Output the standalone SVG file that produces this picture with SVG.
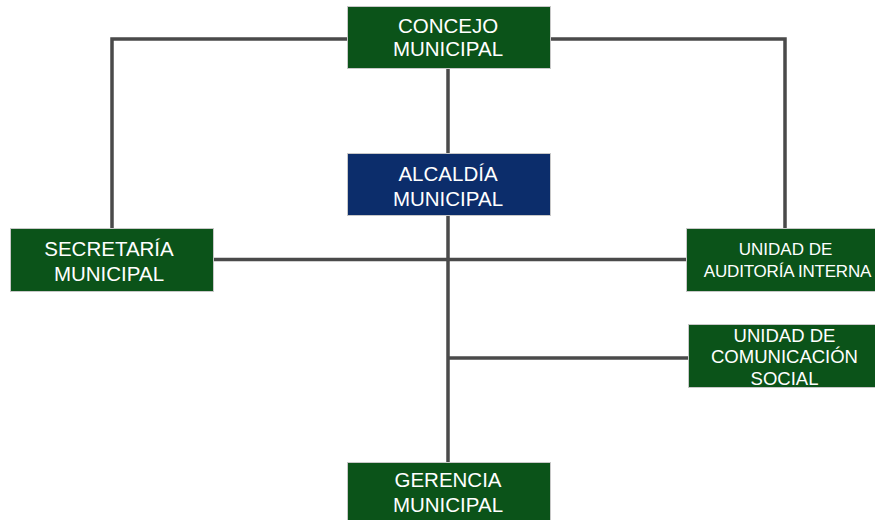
<svg xmlns="http://www.w3.org/2000/svg" width="875" height="520" viewBox="0 0 875 520">
<style>
.box{stroke:#c8c8c8;stroke-width:1}
.g{fill:#0b5319}
.b{fill:#0c2d6b}
.t{fill:#ffffff;font-family:"Liberation Sans",Arial,sans-serif;text-anchor:middle}
.big{font-size:20.5px}
.sm{font-size:17px}
.md{font-size:18.5px}
.c{stroke:#4a4a4a;stroke-width:3.5;fill:none}
</style>
<rect width="875" height="520" fill="#ffffff"/>
<g id="connectors">
<polyline class="c" points="112,228 112,39 785,39 785,228"/>
<line class="c" x1="448" y1="68" x2="448" y2="462"/>
<line class="c" x1="213" y1="259.5" x2="686" y2="259.5"/>
<line class="c" x1="448" y1="358" x2="688" y2="358"/>
</g>
<g id="concejo">
<rect class="box g" x="347.5" y="6.5" width="203" height="62"/>
<text class="t big" x="448" y="33">CONCEJO</text>
<text class="t big" x="448" y="56">MUNICIPAL</text>
</g>
<g id="alcaldia">
<rect class="box b" x="347.5" y="153.5" width="203" height="62"/>
<text class="t big" x="448" y="181">ALCALDÍA</text>
<text class="t big" x="448" y="206">MUNICIPAL</text>
</g>
<g id="secretaria">
<rect class="box g" x="10.5" y="228.5" width="203" height="63"/>
<text class="t big" x="109" y="256">SECRETARÍA</text>
<text class="t big" x="109" y="281">MUNICIPAL</text>
</g>
<g id="auditoria">
<rect class="box g" x="686.5" y="228.5" width="195" height="63"/>
<text class="t sm" x="785.5" y="255">UNIDAD DE</text>
<text class="t sm" x="787.5" y="276.5" style="letter-spacing:-0.2px">AUDITORÍA INTERNA</text>
</g>
<g id="comunicacion">
<rect class="box g" x="688.5" y="324.5" width="193" height="63"/>
<text class="t md" x="784.5" y="341.5">UNIDAD DE</text>
<text class="t md" x="784.5" y="363">COMUNICACIÓN</text>
<text class="t md" x="784.5" y="385">SOCIAL</text>
</g>
<g id="gerencia">
<rect class="box g" x="347.5" y="462.5" width="203" height="62"/>
<text class="t big" x="448" y="487">GERENCIA</text>
<text class="t big" x="448" y="512">MUNICIPAL</text>
</g>
</svg>
